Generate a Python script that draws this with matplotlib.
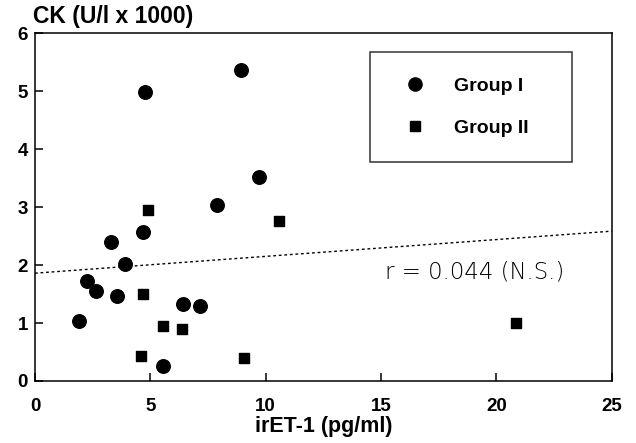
import matplotlib
matplotlib.use("Agg")
import matplotlib.pyplot as plt
from matplotlib.lines import Line2D

# Group I (circles)
g1_x = [1.91, 2.24, 2.63, 3.28, 3.57, 3.91, 4.67, 4.77, 5.53, 6.40, 7.15, 7.87, 8.93, 9.73]
g1_y = [1.03, 1.72, 1.56, 2.39, 1.47, 2.02, 2.57, 4.98, 0.26, 1.32, 1.30, 3.03, 5.36, 3.52]

# Group II (squares)
g2_x = [4.58, 4.67, 4.90, 5.56, 6.35, 9.06, 10.56, 20.84]
g2_y = [0.43, 1.50, 2.95, 0.94, 0.90, 0.39, 2.76, 1.00]

# regression line
fit_x = [0, 25]
fit_intercept = 1.86
fit_slope = 0.029

x_ticks = [0, 5, 10, 15, 20, 25]
y_ticks = [0, 1, 2, 3, 4, 5, 6]

plt.rcParams["font.family"] = ["Liberation Sans", "DejaVu Sans"]

fig = plt.figure(figsize=(6.36, 4.43), dpi=100)
ax = fig.add_axes([0.055, 0.14, 0.907, 0.785])

ax.scatter(g1_x, g1_y, s=95, marker="o", color="black", zorder=3)
ax.scatter(g2_x, g2_y, s=55, marker="s", color="black", zorder=3)

fit_y = [fit_intercept + fit_slope * x for x in fit_x]
ax.plot(fit_x, fit_y, color="black", linewidth=1.0, linestyle=(0, (2.0, 2.0)))

ax.set_xlim(0, 25)
ax.set_ylim(0, 6)
ax.set_xticks(x_ticks)
ax.set_yticks(y_ticks)
ax.tick_params(axis="x", direction="in", length=6, width=1.1, pad=12, labelsize=13.5)
ax.tick_params(axis="y", direction="in", length=6, width=1.1, pad=5, labelsize=13.5)
for lbl in ax.get_xticklabels() + ax.get_yticklabels():
    lbl.set_fontweight("bold")
for sp in ax.spines.values():
    sp.set_linewidth(1.1)

ax.set_xlabel("irET-1 (pg/ml)", fontsize=15.5, fontweight="bold", labelpad=1)
fig.text(0.052, 0.948, "CK (U/l x 1000)", fontsize=16.5, fontweight="bold",
         ha="left", va="baseline")

ax.text(15.15, 1.88, "r = 0.044 (N.S.)", fontsize=16.5, fontweight="light",
        family=["DejaVu Sans"], va="center", ha="left")

handles = [
    Line2D([], [], marker="o", color="black", linestyle="none", markersize=9.5),
    Line2D([], [], marker="s", color="black", linestyle="none", markersize=7),
]
leg = ax.legend(handles, ["Group I", "Group II"], loc="upper left",
                bbox_to_anchor=(0.581, 0.945, 0.35, 0.0), mode="expand",
                frameon=True, fancybox=False, edgecolor="black",
                borderpad=1.3, labelspacing=1.25, handlelength=2.0,
                handletextpad=1.0, borderaxespad=0,
                prop={"weight": "bold", "size": 14})
leg.get_frame().set_linewidth(1.1)

fig.savefig("out.png", dpi=100)
